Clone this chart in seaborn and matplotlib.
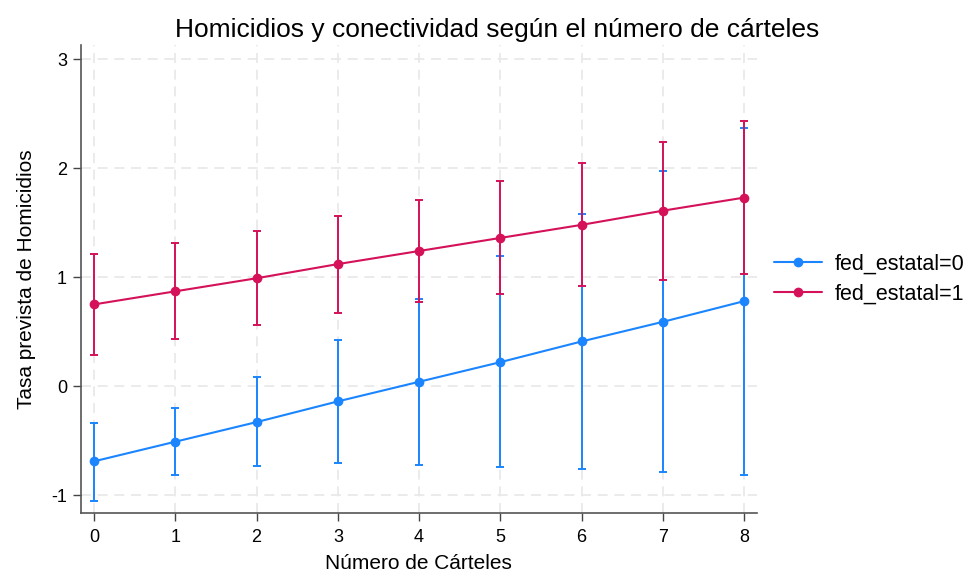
import matplotlib
matplotlib.use("Agg")
import matplotlib.pyplot as plt
import numpy as np
import pandas as pd
import seaborn as sns

# valores
carteles = [0, 1, 2, 3, 4, 5, 6, 7, 8]

pred_0 = [-0.69, -0.51, -0.33, -0.14, 0.04, 0.22, 0.41, 0.59, 0.78]
lo_0 = [-1.05, -0.82, -0.73, -0.71, -0.72, -0.74, -0.76, -0.79, -0.82]
hi_0 = [-0.34, -0.20, 0.08, 0.42, 0.80, 1.19, 1.58, 1.97, 2.37]

pred_1 = [0.75, 0.87, 0.99, 1.12, 1.24, 1.36, 1.48, 1.61, 1.73]
lo_1 = [0.29, 0.43, 0.56, 0.67, 0.77, 0.85, 0.92, 0.97, 1.03]
hi_1 = [1.21, 1.31, 1.42, 1.56, 1.71, 1.88, 2.05, 2.24, 2.43]

grupos = ["fed_estatal=0", "fed_estatal=1"]
colores = ["#1a85ff", "#d41159"]


def plot_margins():
    sns.set_theme(style="white")
    plt.rcParams['font.family'] = ['Liberation Sans', 'DejaVu Sans']
    plt.rcParams['axes.unicode_minus'] = False
    plt.rcParams['text.color'] = 'black'
    plt.rcParams['axes.labelcolor'] = 'black'
    plt.rcParams['xtick.color'] = 'black'
    plt.rcParams['ytick.color'] = 'black'

    df = pd.DataFrame({
        'carteles': carteles * 2,
        'pred': pred_0 + pred_1,
        'lo': lo_0 + lo_1,
        'hi': hi_0 + hi_1,
        'grupo': [grupos[0]] * len(carteles) + [grupos[1]] * len(carteles),
    })

    fig = plt.figure(figsize=(9.64, 5.73), dpi=100)
    ax = fig.add_axes([0.0837, 0.104, 0.7013, 0.817])

    # intervalos de confianza
    for g, c in zip(grupos, colores):
        d = df[df['grupo'] == g]
        ax.errorbar(d['carteles'], d['pred'],
                    yerr=[d['pred'] - d['lo'], d['hi'] - d['pred']],
                    fmt='none', ecolor=c, elinewidth=1.4, capsize=3, capthick=1.4)

    sns.lineplot(data=df, x='carteles', y='pred', hue='grupo', palette=colores,
                 marker='o', markersize=7, markeredgewidth=0, linewidth=1.5, ax=ax)

    ax.set_xlim(-0.165, 8.155)
    ax.set_ylim(-1.168, 3.128)
    ax.set_xticks(range(0, 9))
    ax.set_yticks([-1, 0, 1, 2, 3])
    ax.grid(True, color='#e8e8e8', linestyle=(0, (6, 4)), linewidth=1.2)
    for s in ['top', 'right']:
        ax.spines[s].set_visible(False)
    for s in ['left', 'bottom']:
        ax.spines[s].set_color('#555555')
        ax.spines[s].set_linewidth(1.2)
    ax.tick_params(axis='both', which='both', direction='out', length=5.5, width=1,
                   color='#444444', labelsize=13, left=True, bottom=True)
    ax.tick_params(axis='x', pad=5.5)
    ax.tick_params(axis='y', pad=4.3)

    ax.set_xlabel("Número de Cárteles", fontsize=15, labelpad=6)
    ax.set_ylabel("Tasa prevista de Homicidios", fontsize=15, labelpad=11)
    fig.suptitle("Homicidios y conectividad según el número de cárteles",
                 fontsize=19, x=0.5156, y=0.948, va='center')

    ax.legend(loc='center left', bbox_to_anchor=(1.0125, 0.5), frameon=False,
              borderaxespad=0, fontsize=15.5, handlelength=2.25, handletextpad=0.6,
              labelspacing=0.4, title=None)

    plt.savefig("out.png", dpi=100)
    plt.close()


if __name__ == '__main__':
    plot_margins()
